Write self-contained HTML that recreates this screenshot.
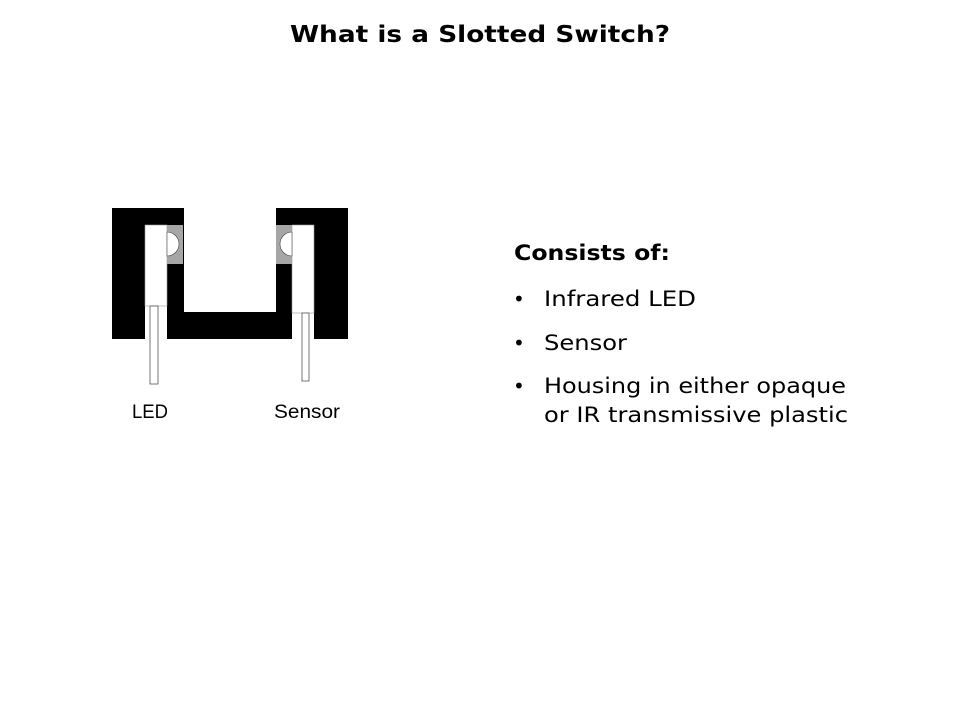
<!DOCTYPE html>
<html><head><meta charset="utf-8"><style>
html,body{margin:0;padding:0;background:#fff;}
</style></head><body>
<svg width="960" height="720" xmlns="http://www.w3.org/2000/svg" style="display:block">
<rect width="960" height="720" fill="#fff"/>
<text x="480" y="42" text-anchor="middle" font-family="DejaVu Sans, Verdana, sans-serif" font-weight="bold" font-size="23" textLength="380" lengthAdjust="spacingAndGlyphs">What is a Slotted Switch?</text>
<!-- housing -->
<rect x="112" y="208" width="72" height="131" fill="#000"/>
<rect x="276" y="208" width="72" height="131" fill="#000"/>
<rect x="167" y="312" width="126" height="27" fill="#000"/>
<!-- gaps below bodies -->
<rect x="145" y="306" width="22" height="34" fill="#fff"/>
<rect x="292" y="313" width="22" height="27" fill="#fff"/>
<!-- LED body -->
<rect x="145" y="225" width="22" height="81" fill="#fff" stroke="#999" stroke-width="0.6"/>
<rect x="167" y="225" width="16" height="39" fill="#a6a6a6"/>
<path d="M167,232 A12,12 0 0 1 167,256 Z" fill="#fff" stroke="#444" stroke-width="0.6"/>
<rect x="150" y="306" width="8" height="78" fill="#fff" stroke="#555" stroke-width="0.8"/>
<!-- Sensor body -->
<rect x="292" y="225" width="22" height="88" fill="#fff" stroke="#999" stroke-width="0.6"/>
<rect x="276" y="225" width="16" height="39" fill="#a6a6a6"/>
<path d="M292,232 A12,12 0 0 0 292,256 Z" fill="#fff" stroke="#444" stroke-width="0.6"/>
<rect x="302" y="313" width="7" height="68" fill="#fff" stroke="#555" stroke-width="0.8"/>
<text x="150" y="418" text-anchor="middle" font-family="Liberation Sans, sans-serif" font-size="19" textLength="36" lengthAdjust="spacingAndGlyphs">LED</text>
<text x="307" y="418" text-anchor="middle" font-family="Liberation Sans, sans-serif" font-size="19" textLength="66" lengthAdjust="spacingAndGlyphs">Sensor</text>
<g font-family="DejaVu Sans, Verdana, sans-serif" font-size="21" fill="#000">
<text x="514" y="260" font-weight="bold" textLength="156" lengthAdjust="spacingAndGlyphs">Consists of:</text>
<text x="513" y="306" font-size="20">•</text>
<text x="544" y="306" textLength="152" lengthAdjust="spacingAndGlyphs">Infrared LED</text>
<text x="513" y="350" font-size="20">•</text>
<text x="544" y="350" textLength="83" lengthAdjust="spacingAndGlyphs">Sensor</text>
<text x="513" y="393" font-size="20">•</text>
<text x="544" y="393" textLength="302" lengthAdjust="spacingAndGlyphs">Housing in either opaque</text>
<text x="544" y="422" textLength="304" lengthAdjust="spacingAndGlyphs">or IR transmissive plastic</text>
</g>
</svg>
</body></html>
